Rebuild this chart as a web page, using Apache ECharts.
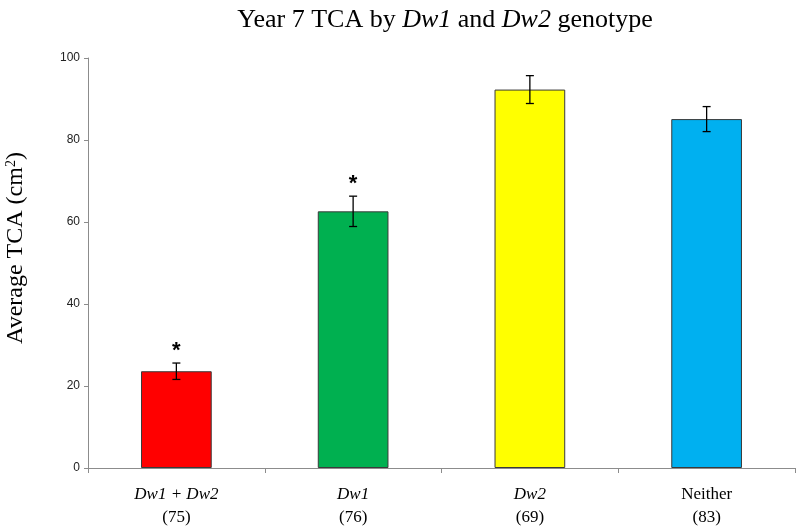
<!DOCTYPE html>
<html>
<head>
<meta charset="utf-8">
<script src="https://cdn.jsdelivr.net/npm/echarts@6/dist/echarts.min.js"></script>
<style>html,body{margin:0;padding:0;background:#fff}#c{width:800px;height:531px}</style>
</head>
<body>
<div id="c"></div>
<script>
var categories = ['Dw1 + Dw2', 'Dw1', 'Dw2', 'Neither'];
var sampleSizes = ['(75)', '(76)', '(69)', '(83)'];
var italicCat = [true, true, true, false];
var values = [23.6, 62.6, 92.3, 85.1];
var errors = [2.0, 3.7, 3.4, 3.05];
var significance = ['*', '*', '', ''];
var barColors = ['#FF0000', '#00B050', '#FFFF00', '#00B0F0'];
var yTicks = [0, 20, 40, 60, 80, 100];

var chart = echarts.init(document.getElementById('c'), null, {renderer: 'canvas'});

var option = {
  backgroundColor: '#ffffff',
  animation: false,
  title: {
    text: '{n|Year 7 TCA by }{i|Dw1}{n| and }{i|Dw2}{n| genotype}',
    left: 440,
    textAlign: 'center',
    top: 2,
    textStyle: {
      fontWeight: 'normal',
      rich: {
        n: {fontFamily: 'Liberation Serif', fontSize: 26, fontWeight: 'normal', color: '#000'},
        i: {fontFamily: 'Liberation Serif', fontSize: 26, fontWeight: 'normal', fontStyle: 'italic', color: '#000'}
      }
    }
  },
  grid: {left: 88, right: 5, top: 58, bottom: 63, containLabel: false, outerBoundsMode: 'none'},
  xAxis: {
    type: 'category',
    data: categories,
    axisLine: {lineStyle: {color: '#8c8c8c', width: 1}},
    axisTick: {show: true, length: 5, interval: 0, lineStyle: {color: '#8c8c8c'}},
    axisLabel: {
      interval: 0,
      margin: 15,
      formatter: function (v, idx) {
        var style = italicCat[idx] ? 'i' : 'n';
        return '{' + style + '|' + v + '}\n{n|' + sampleSizes[idx] + '}';
      },
      rich: {
        n: {fontFamily: 'Liberation Serif', fontSize: 17, color: '#000', lineHeight: 23},
        i: {fontFamily: 'Liberation Serif', fontSize: 17, fontStyle: 'italic', color: '#000', lineHeight: 23}
      }
    }
  },
  yAxis: {
    type: 'value',
    min: 0,
    max: 100,
    interval: 20,
    name: '{n|Average TCA (cm}{s|2}{n|)}',
    nameLocation: 'middle',
    nameGap: 60,
    nameTextStyle: {
      padding: [0, 0, 0, 30],
      rich: {
        n: {fontFamily: 'Liberation Serif', fontSize: 24, color: '#000'},
        s: {fontFamily: 'Liberation Serif', fontSize: 14, color: '#000', verticalAlign: 'top', padding: [0, 0, 10, 0]}
      }
    },
    axisLine: {show: true, lineStyle: {color: '#8c8c8c', width: 1}},
    axisTick: {show: true, length: 4, lineStyle: {color: '#8c8c8c'}},
    splitLine: {show: false},
    axisLabel: {
      fontFamily: 'Liberation Sans',
      fontSize: 12,
      color: '#222',
      margin: 8,
      formatter: function (v) { return yTicks.indexOf(v) >= 0 ? String(v) : ''; }
    }
  },
  series: [
    {
      type: 'bar',
      barWidth: '40%',
      data: values.map(function (v, i) {
        return {value: v, itemStyle: {color: barColors[i]}};
      }),
      itemStyle: {borderColor: '#3a3a3a', borderWidth: 1}
    },
    {
      type: 'custom',
      data: values.map(function (v, i) { return [i, v, errors[i]]; }),
      z: 10,
      renderItem: function (params, api) {
        var i = api.value(0);
        var v = api.value(1);
        var e = api.value(2);
        var top = api.coord([i, v + e]);
        var bot = api.coord([i, v - e]);
        var cap = 4;
        var children = [
          {type: 'line', shape: {x1: top[0], y1: top[1], x2: bot[0], y2: bot[1]}, style: {stroke: '#000', lineWidth: 1.3}},
          {type: 'line', shape: {x1: top[0] - cap, y1: top[1], x2: top[0] + cap, y2: top[1]}, style: {stroke: '#000', lineWidth: 1.3}},
          {type: 'line', shape: {x1: bot[0] - cap, y1: bot[1], x2: bot[0] + cap, y2: bot[1]}, style: {stroke: '#000', lineWidth: 1.3}}
        ];
        if (significance[i]) {
          children.push({
            type: 'text',
            style: {
              text: significance[i],
              x: top[0],
              y: top[1] - 12,
              textAlign: 'center',
              textVerticalAlign: 'middle',
              font: 'bold 22px "Liberation Sans"',
              fill: '#000'
            }
          });
        }
        return {type: 'group', children: children};
      }
    }
  ]
};
chart.setOption(option);
</script>
</body>
</html>
